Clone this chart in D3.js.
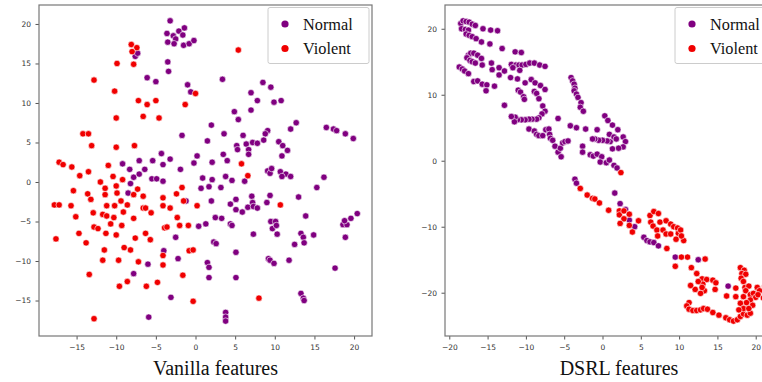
<!DOCTYPE html>
<html>
<head>
<meta charset="utf-8">
<script src="https://cdn.jsdelivr.net/npm/d3@7"></script>
<style>
  body { margin: 0; background: #fff; }
  svg { display: block; }
  .tick text { font-family: "DejaVu Sans", sans-serif; font-size: 7.5px; fill: #333; }
  .tick line { stroke: #555; }
</style>
</head>
<body>
<svg id="chart" width="762" height="382"></svg>
<script>
// t-SNE of vanilla features
const vanillaNormal = [
  [-3.2,20.4],[-3.6,18.8],[-3.5,17.7],[-2.8,18.5],[-2.5,18.1],[-2.7,17.5],[-2.1,19.1],[-1.6,18.6],[-1.4,19.5],[-1.5,17.3],[-0.8,17.5],[-0.2,17.9],
  [-7.6,15.9],[-7.3,16.3],[-3.5,15.2],[-3.4,14.0],[-6.1,13.2],[-5.0,12.7],[-1.0,12.3],[-0.6,11.4],[3.4,13.0],[8.5,12.6],[9.5,12.0],[7.0,11.3],
  [7.8,10.3],[9.9,10.1],[10.8,10.3],[4.9,8.9],[7.0,9.1],[5.4,7.9],[2.0,7.2],[12.7,7.5],[12.0,6.7],[16.5,6.9],[17.4,6.7],[17.8,6.5],[18.9,6.1],
  [19.9,5.5],[-1.7,5.9],[3.6,6.1],[6.0,5.9],[9.1,6.5],[8.8,6.1],[8.6,5.3],[1.5,5.2],[5.2,4.6],[6.4,4.8],[7.2,5.0],[7.8,4.9],[6.7,4.1],[6.7,3.5],
  [5.3,4.1],[3.5,3.5],[10.5,5.1],[11.0,4.6],[11.6,4.0],[10.9,3.3],[0.2,3.3],[-0.2,2.4],[2.1,2.5],[4.0,2.7],[9.1,1.4],[9.4,1.1],[9.6,1.7],
  [10.7,1.3],[11.4,1.0],[10.9,0.7],[12.0,0.7],[16.2,0.6],[0.9,0.5],[2.1,0.3],[3.8,0.7],[4.6,0.2],[6.2,0.1],[1.7,-0.6],[3.2,-0.7],[0.7,-0.8],
  [15.3,-0.7],[-4.3,3.6],[-3.2,2.9],[-4.1,2.2],[-1.9,1.6],[-5.4,2.7],[-7.1,2.7],[-6.4,1.6],[-8.3,1.6],[-9.2,2.3],[-7.8,0.6],[-7.1,1.0],
  [-8.2,-0.2],[-5.5,0.4],[-4.9,0.4],[-4.1,0.1],[-8.5,-1.4],[-1.2,-2.4],[-4.0,-8.7],[-2.5,-7.0],[-2.2,-9.7],[-7.8,-11.6],[-6.0,-10.4],
  [-3.1,-14.6],[-5.9,-17.1],[2.0,-2.4],[0.4,-5.6],[1.3,-5.3],[2.5,-4.5],[3.3,-4.6],[4.4,-5.3],[4.6,-5.5],[5.1,-2.2],[5.1,-3.5],[4.4,-2.8],
  [5.9,-3.8],[6.6,-3.2],[7.1,-1.8],[7.2,-2.6],[7.3,-3.1],[7.8,-3.3],[9.4,-1.7],[9.0,-2.6],[13.0,-1.9],[7.3,-6.6],[9.5,-5.0],[10.1,-5.0],
  [9.7,-5.9],[10.2,-5.5],[10.3,-6.6],[13.9,-4.3],[13.3,-6.5],[13.6,-7.0],[13.7,-7.7],[14.9,-6.7],[12.5,-7.9],[11.8,-9.9],[9.2,-9.7],
  [9.4,-9.9],[9.9,-10.3],[18.6,-5.4],[19.1,-5.4],[18.8,-4.9],[19.6,-4.6],[20.4,-4.0],[18.9,-7.0],[17.6,-10.9],[2.3,-7.6],[2.6,-7.8],
  [5.1,-8.9],[1.5,-10.2],[1.7,-10.8],[1.7,-12.1],[5.1,-12.1],[13.3,-14.1],[13.6,-14.7],[13.7,-15.0],[3.8,-16.5],[3.8,-17.1],[3.8,-17.6]
];
const vanillaViolent = [
  [-8.1,17.4],[-7.4,17.0],[-8.0,16.5],[-7.8,14.9],[-9.9,15.0],[-12.8,12.9],[-10.2,11.5],[-7.2,10.3],[-6.1,9.8],[-5.0,10.3],[-1.3,9.8],
  [-10.0,8.1],[-6.6,8.3],[-4.6,8.1],[-14.2,6.1],[-13.5,6.1],[-13.1,4.6],[-10.0,4.4],[-7.7,4.6],[-17.2,2.5],[-16.7,2.2],[-15.6,1.9],
  [-14.6,0.8],[-13.5,1.3],[-11.0,2.1],[-10.4,0.7],[-12.0,0.0],[-9.2,0.3],[-10.0,-0.5],[-11.4,-0.8],[-7.3,-0.9],[-1.7,-0.7],[-15.4,-1.1],
  [5.4,16.7],[0.0,11.2],[5.8,2.3],[6.6,0.8],[-17.8,-2.9],[-17.2,-2.9],[-17.6,-7.2],[-15.7,-3.0],[-15.1,-4.4],[-14.7,-6.5],[-13.8,-7.7],
  [-13.6,-1.5],[-13.2,-2.2],[-12.9,-3.9],[-12.8,-5.7],[-12.3,-5.9],[-13.4,-11.7],[-12.8,-17.3],[-11.4,-1.6],[-11.2,-3.0],[-11.7,-4.1],
  [-11.2,-4.3],[-11.3,-6.5],[-11.5,-8.6],[-11.7,-9.9],[-10.7,-5.3],[-10.2,-3.0],[-9.9,-1.4],[-10.3,-4.5],[-10.0,-6.7],[-9.7,-9.9],
  [-9.6,-13.2],[-9.4,-2.4],[-9.1,-3.8],[-9.3,-5.5],[-9.0,-8.3],[-8.6,-2.9],[-8.6,-12.6],[-8.2,-8.6],[-7.8,-1.6],[-7.8,-4.6],[-7.6,-7.1],
  [-7.2,-10.1],[-6.6,-1.8],[-6.6,-3.3],[-6.3,-3.3],[-6.3,-6.5],[-6.2,-13.2],[-5.7,-7.3],[-5.6,-3.9],[-4.8,-12.7],[-4.1,-9.3],[-4.1,-10.5],
  [-4.1,-2.0],[-4.1,-3.0],[-3.9,-5.8],[-3.6,-5.7],[-3.2,-3.3],[-2.4,-1.5],[-2.3,-4.5],[-2.0,-5.5],[-1.6,-11.8],[-1.5,-2.4],[-0.9,-5.5],
  [-0.8,-8.7],[-0.3,-8.6],[0.2,-3.0],[10.7,-2.9],[-0.3,-15.1],[8.0,-14.7]
];

// t-SNE of DSRL features
const dsrlNormal = [
  [-18.5,20.8],[-18.2,21.2],[-17.8,21.1],[-17.4,21.0],[-17.0,20.7],[-16.6,20.5],[-18.4,20.0],[-17.9,19.9],[-17.5,19.8],[-17.8,19.2],
  [-17.4,19.0],[-17.0,18.8],[-16.5,18.5],[-15.6,20.0],[-14.6,19.8],[-13.7,19.7],[-15.8,18.0],[-14.7,17.7],[-13.1,17.0],
  [-17.5,16.0],[-17.2,16.3],[-16.8,16.3],[-16.3,16.0],[-15.8,15.5],[-17.7,15.6],[-17.3,15.2],[-17.0,15.0],[-16.6,14.8],[-15.7,14.5],
  [-14.5,14.8],[-13.5,14.1],[-18.7,14.2],[-18.3,13.9],[-18.0,13.6],[-17.5,13.2],[-16.8,12.0],[-16.3,12.1],[-15.7,11.6],[-15.1,11.5],
  [-15.2,10.6],[-14.1,11.3],[-14.4,13.8],[-13.5,13.0],[-12.8,13.6],[-12.8,8.4],
  [-11.4,16.5],[-10.6,16.4],[-11.9,14.6],[-11.3,14.5],[-10.9,14.5],[-10.5,14.5],[-10.0,14.6],[-9.5,14.8],[-8.9,14.8],[-8.2,14.5],
  [-7.5,14.3],[-11.7,14.1],[-10.8,13.7],[-12.0,12.6],[-11.1,12.4],[-10.1,11.8],[-9.3,12.3],[-8.8,11.8],[-8.1,11.4],[-7.5,10.8],
  [-11.0,10.7],[-10.7,10.4],[-10.3,9.7],[-10.2,9.3],[-8.9,10.5],[-8.6,10.2],[-8.3,9.4],[-7.8,8.3],[-7.5,7.5],[-7.9,7.1],[-8.3,6.5],
  [-8.6,6.3],[-9.2,6.3],[-9.6,6.3],[-10.1,6.2],[-10.6,6.2],[-11.1,6.2],[-11.4,6.6],[-11.5,5.9],[-11.9,6.7],[-5.8,6.4],
  [-9.6,4.8],[-8.9,4.5],[-8.6,4.0],[-8.3,3.8],[-7.8,3.8],[-7.4,4.7],[-7.0,4.8],[-6.9,4.0],[-6.8,3.4],[-6.5,3.1],[-6.2,2.2],[-5.8,1.3],
  [-5.4,0.6],[-5.5,1.9],[-5.2,2.7],[-4.9,2.9],[-4.5,3.0],
  [-4.1,12.6],[-3.9,12.1],[-3.7,11.6],[-3.6,11.0],[-3.7,10.6],[-3.4,10.1],[-3.2,9.6],[-2.8,8.8],[-2.9,8.1],[-2.5,7.5],
  [-4.2,5.3],[-3.4,5.0],[-2.2,4.8],[-0.7,4.7],[0.3,6.8],[0.7,6.1],[1.3,5.4],[2.0,4.7],[2.7,3.6],[3.0,2.9],[2.7,2.1],[2.1,1.9],[1.3,1.8],
  [1.0,2.9],[0.6,3.0],[0.0,3.1],[-0.5,3.1],[-1.0,3.3],[-1.3,3.3],[0.9,4.0],[1.5,3.6],[1.8,3.3],
  [-2.6,2.2],[-2.6,1.3],[-1.6,0.9],[-1.2,0.7],[-0.7,1.0],[-0.1,0.6],[-0.3,-0.2],[0.5,-0.3],[0.9,0.1],[1.5,-0.7],[1.9,-1.1],
  [-3.6,-2.8],[-3.4,-3.4],[1.6,-4.9],[2.3,-6.5],[3.0,-7.4],[3.5,-9.0],[4.2,-10.0],[5.4,-11.6],[5.8,-12.1],[6.2,-12.3],[6.7,-12.4],
  [7.3,-12.9],[9.5,-14.6],[12.5,-15.0],[16.4,-19.0]
];
const dsrlViolent = [
  [2.4,-1.8],[-2.9,-4.2],[-2.0,-5.2],[-1.3,-5.7],[-1.0,-5.8],[-0.4,-6.4],[0.8,-7.5],[2.2,-7.6],[2.2,-8.2],[2.8,-7.6],[3.5,-8.1],
  [2.8,-8.8],[2.3,-9.5],[3.5,-9.8],[3.9,-10.8],[4.7,-9.1],[6.2,-8.3],[6.7,-7.7],[7.3,-8.0],[7.5,-9.3],[6.3,-9.3],[6.6,-9.9],
  [7.1,-10.5],[7.2,-11.4],[7.9,-10.5],[8.3,-11.1],[8.3,-9.1],[8.9,-9.6],[9.3,-10.0],[9.8,-10.2],[9.9,-11.0],[10.2,-10.5],
  [10.6,-12.1],[10.3,-11.4],[9.6,-11.9],[8.9,-11.1],[8.4,-13.3],[9.5,-16.0],[10.3,-14.6],[11.1,-14.6],[13.4,-14.9],
  [11.6,-16.2],[12.3,-17.1],[13.0,-17.9],[13.6,-18.0],[14.4,-18.1],[14.8,-18.5],[14.7,-19.5],[13.3,-19.7],[12.8,-20.1],[12.1,-19.5],
  [11.5,-18.9],[13.1,-18.7],[12.5,-18.3],[13.0,-19.2],
  [11.3,-21.5],[11.0,-22.0],[11.3,-22.5],[11.8,-22.7],[12.3,-22.7],[12.8,-22.6],[13.2,-22.4],[13.7,-22.5],[14.4,-23.0],[15.2,-23.4],
  [16.1,-23.8],[16.6,-24.1],[17.1,-24.3],[17.6,-24.1],[18.0,-23.6],[18.4,-23.2],[18.9,-23.4],[19.3,-23.1],
  [16.2,-20.5],[17.4,-19.3],[17.4,-20.6],[18.0,-16.2],[18.5,-16.6],[18.2,-17.1],[18.7,-17.2],[18.1,-17.8],[18.4,-18.3],[18.6,-19.2],
  [19.1,-19.0],[18.7,-19.7],[18.4,-20.6],[19.3,-20.3],[19.7,-20.1],[20.2,-19.2],[20.5,-19.7],[20.0,-20.7],[19.3,-21.1],[18.8,-21.5],
  [19.6,-21.9],[18.0,-21.6],[18.4,-22.4],[17.8,-22.6],[19.1,-22.4],[20.3,-20.3],[21.0,-20.8],[21.2,-19.0]
];

const vanillaXTicks = [-15, -10, -5, 0, 5, 10, 15, 20];
const vanillaYTicks = [-15, -10, -5, 0, 5, 10, 15, 20];
const dsrlXTicks = [-20, -15, -10, -5, 0, 5, 10, 15, 20];
const dsrlYTicks = [-20, -10, 0, 10, 20];

const seriesNames = ["Normal", "Violent"];
const colors = d3.scaleOrdinal().domain(seriesNames).range(["#800080", "#f00000"]);

const svg = d3.select("#chart");

function fmt(v) {
  return v < 0 ? "\u2212" + Math.abs(v) : String(v);
}

function drawPanel(p) {
  const x = d3.scaleLinear().domain(p.xDomain).range([p.left, p.right]);
  const y = d3.scaleLinear().domain(p.yDomain).range([p.bottom, p.top]);
  const g = svg.append("g");

  // clip so dots past the frame are cut like the original
  const clipId = "clip-" + p.name;
  g.append("clipPath")
    .attr("id", clipId)
    .append("rect")
    .attr("x", p.left)
    .attr("y", p.top)
    .attr("width", p.right - p.left)
    .attr("height", p.bottom - p.top);

  const dots = g.append("g").attr("clip-path", `url(#${clipId})`);
  [["Normal", p.normal], ["Violent", p.violent]].forEach(([key, pts]) => {
    dots
      .selectAll(null)
      .data(pts)
      .enter()
      .append("circle")
      .attr("cx", (d) => x(d[0]))
      .attr("cy", (d) => y(d[1]))
      .attr("r", 3.2)
      .style("fill", colors(key))
      .style("stroke", "#fff")
      .style("stroke-width", 0.6);
  });

  g.append("g")
    .attr("transform", `translate(0,${p.bottom})`)
    .call(d3.axisBottom(x).tickValues(p.xTicks).tickFormat(fmt).tickSize(3.5).tickPadding(5.5))
    .call((a) => a.select(".domain").remove());

  g.append("g")
    .attr("transform", `translate(${p.left},0)`)
    .call(d3.axisLeft(y).tickValues(p.yTicks).tickFormat(fmt).tickSize(3.5).tickPadding(4.5))
    .call((a) => a.select(".domain").remove());

  g.append("rect")
    .attr("x", p.left)
    .attr("y", p.top)
    .attr("width", p.right - p.left)
    .attr("height", p.bottom - p.top)
    .style("fill", "none")
    .style("stroke", "#777")
    .style("stroke-width", 1.2);

  // legend, top right
  const lg = g.append("g").attr("transform", `translate(${p.right - 104},7.5)`);
  lg.append("rect")
    .attr("width", 101)
    .attr("height", 56)
    .attr("rx", 2)
    .style("fill", "#fff")
    .style("stroke", "#ccc")
    .style("stroke-width", 1);
  seriesNames.forEach((name, i) => {
    lg.append("circle")
      .attr("cx", 17)
      .attr("cy", 16.5 + i * 24.5)
      .attr("r", 3.6)
      .style("fill", colors(name));
    lg.append("text")
      .attr("x", 35)
      .attr("y", 22 + i * 24.5)
      .style("font-family", "'Liberation Serif', 'Times New Roman', serif")
      .style("font-size", "16.3px")
      .style("fill", "#111")
      .text(name);
  });

  svg.append("text")
    .attr("x", p.titleX)
    .attr("y", 375)
    .attr("text-anchor", "middle")
    .style("font-family", "'Liberation Serif', 'Times New Roman', serif")
    .style("font-size", "20px")
    .style("fill", "#111")
    .text(p.title);
}

drawPanel({
  name: "vanilla",
  normal: vanillaNormal,
  violent: vanillaViolent,
  xDomain: [-19.74, 22.26],
  yDomain: [-19.49, 22.4],
  left: 39, right: 372, top: 5, bottom: 336,
  xTicks: vanillaXTicks,
  yTicks: vanillaYTicks,
  title: "Vanilla features",
  titleX: 215.5
});

drawPanel({
  name: "dsrl",
  normal: dsrlNormal,
  violent: dsrlViolent,
  xDomain: [-20.56, 23.04],
  yDomain: [-26.56, 23.6],
  left: 445, right: 779, top: 5, bottom: 336,
  xTicks: dsrlXTicks,
  yTicks: dsrlYTicks,
  title: "DSRL features",
  titleX: 619
});
</script>
</body>
</html>
